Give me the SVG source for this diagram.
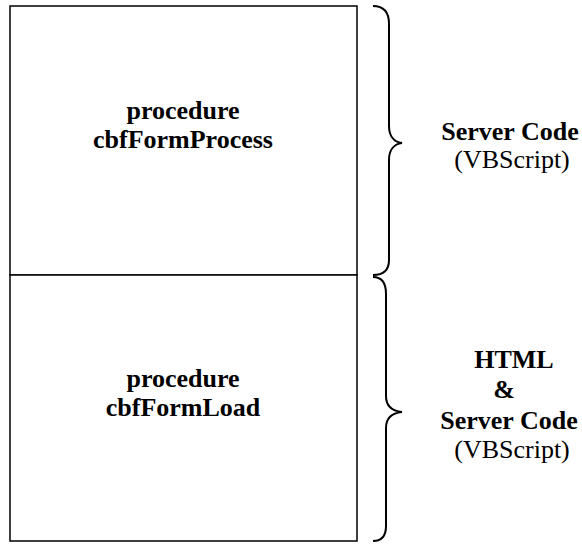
<svg xmlns="http://www.w3.org/2000/svg" width="582" height="545" viewBox="0 0 582 545">
<style>
.box{fill:#fff;stroke:#000;stroke-width:1.5}
.brace{fill:none;stroke:#000;stroke-width:2}
text{font-family:"Liberation Serif","Times New Roman",serif;font-size:26px;fill:#000;text-anchor:middle}
.b{font-weight:bold}
</style>
<rect width="582" height="545" fill="#fff"/>
<g id="process">
<rect class="box" x="10" y="6" width="347" height="269"/>
<text class="b" x="183" y="119">procedure</text>
<text class="b" x="183" y="148">cbfFormProcess</text>
</g>
<g id="load">
<rect class="box" x="10" y="275" width="347" height="266"/>
<text class="b" x="183" y="387">procedure</text>
<text class="b" x="183" y="416">cbfFormLoad</text>
</g>
<g id="connectors">
<path class="brace" d="M373,6 C384,6 389,12 389,24 L389,126 C389,136 394,142 402,143 C394,144 389,150 389,160 L389,260 C389,270 384,275 373,275"/>
<path class="brace" d="M373,277 C382,277 386,283 386,294 L386,396 C386,406 392,411 402,412 C392,413 386,418 386,428 L386,526 C386,536 382,541 373,541"/>
</g>
<g id="server-label">
<text class="b" x="510" y="140">Server Code</text>
<text x="512" y="168">(VBScript)</text>
</g>
<g id="html-label">
<text class="b" x="514" y="368">HTML</text>
<text class="b" x="504" y="398">&amp;</text>
<text class="b" x="509" y="429">Server Code</text>
<text x="512" y="458">(VBScript)</text>
</g>
</svg>
